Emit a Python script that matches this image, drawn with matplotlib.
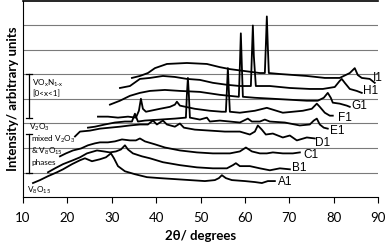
import matplotlib
matplotlib.use("Agg")
import matplotlib.pyplot as plt

plt.rcParams['font.family'] = ['Lato', 'DejaVu Sans']

# ---- data (2θ in degrees, intensity in arbitrary offset units) ----
A1_x = [12.25, 13.83, 15.63, 17.66, 19.01, 21.04, 22.84, 23.96, 25.54, 27.34, 28.69, 29.82, 30.50, 31.40,
        32.97, 35.23, 37.93, 40.86, 44.23, 47.61, 50.99, 53.24, 54.14, 54.82, 55.72, 57.07, 60.0, 62.25,
        63.83, 65.18, 66.76]
A1_y = [0.57, 0.69, 0.85, 1.01, 1.13, 1.34, 1.50, 1.58, 1.46, 1.54, 1.62, 1.78, 1.58, 1.26,
        1.05, 0.93, 0.81, 0.77, 0.73, 0.69, 0.65, 0.69, 0.77, 0.89, 0.77, 0.69, 0.65, 0.61,
        0.57, 0.65, 0.65]

B1_x = [15.63, 17.21, 19.01, 21.26, 22.84, 24.41, 26.67, 28.24, 29.59, 30.95, 32.07, 32.97, 33.65, 34.77,
        36.8, 38.6, 41.53, 45.36, 49.19, 52.79, 55.95, 57.3, 57.97, 58.87, 61.13, 63.38, 65.63, 67.88, 70.14]
B1_y = [1.01, 1.17, 1.34, 1.50, 1.62, 1.78, 1.90, 1.86, 1.82, 1.86, 1.94, 2.11, 1.94, 1.78,
        1.66, 1.58, 1.42, 1.30, 1.21, 1.17, 1.17, 1.30, 1.38, 1.26, 1.26, 1.17, 1.09, 1.17, 1.13]

C1_x = [18.33, 19.68, 21.26, 23.06, 24.64, 26.22, 27.34, 29.14, 30.72, 32.3, 34.1, 35.45, 36.35, 37.48,
        39.73, 41.98, 45.36, 49.19, 52.79, 56.62, 58.87, 60.23, 61.58, 63.38, 64.95, 66.31, 68.56, 70.81, 72.39]
C1_y = [1.66, 1.78, 1.90, 1.98, 2.11, 2.19, 2.23, 2.23, 2.27, 2.35, 2.31, 2.31, 2.39, 2.27,
        2.15, 2.02, 1.90, 1.82, 1.78, 1.78, 1.86, 2.02, 1.86, 1.78, 1.78, 1.82, 1.78, 1.78, 1.82]

D1_x = [21.71, 22.84, 25.09, 27.34, 29.59, 31.85, 34.10, 36.35, 38.15, 39.28, 40.18, 41.53, 42.43, 44.23,
        45.36, 46.26, 48.73, 52.11, 55.49, 58.87, 61.12, 62.25, 62.92, 63.82, 64.72, 66.30, 68.55, 70.13,
        71.71, 73.96, 75.76]
D1_y = [2.47, 2.67, 2.71, 2.79, 2.83, 2.87, 2.92, 2.96, 2.96, 3.12, 2.96, 3.12, 2.96, 2.87,
        3.00, 2.83, 2.75, 2.71, 2.67, 2.67, 2.55, 2.67, 2.92, 2.75, 2.55, 2.59, 2.43, 2.51,
        2.31, 2.43, 2.39]

E1_x = [24.64, 26.22, 28.47, 30.72, 32.97, 34.55, 35.22, 35.90, 37.47, 40.86, 44.23, 46.71, 46.93, 47.16,
        47.38, 47.61, 49.86, 51.44, 52.11, 54.36, 56.62, 58.87, 60.67, 61.57, 63.37, 64.50, 65.62, 69.00,
        72.38, 74.63, 75.53, 76.21, 76.88, 77.78, 78.68]
E1_y = [2.83, 2.87, 2.96, 3.04, 3.08, 3.08, 3.40, 3.08, 3.12, 3.16, 3.20, 3.24, 4.17, 4.86,
        4.17, 3.24, 3.16, 3.24, 3.08, 3.12, 3.08, 3.04, 3.20, 3.08, 3.08, 3.16, 3.08, 3.04,
        2.92, 2.96, 3.12, 3.20, 2.96, 2.83, 2.79]

F1_x = [26.89, 29.14, 31.40, 33.65, 35.45, 36.12, 36.57, 37.02, 37.70, 40.86, 43.11, 44.23, 44.68, 45.36,
        48.73, 52.11, 54.81, 55.72, 55.94, 56.17, 56.39, 56.62, 58.87, 62.25, 64.95, 68.55, 73.06, 75.08,
        76.21, 76.88, 78.01, 79.13, 79.81]
F1_y = [3.28, 3.28, 3.24, 3.28, 3.24, 3.52, 4.01, 3.60, 3.48, 3.60, 3.68, 3.77, 3.89, 3.73,
        3.60, 3.52, 3.48, 3.48, 4.33, 5.26, 4.33, 3.48, 3.44, 3.52, 3.64, 3.44, 3.52, 3.60,
        3.81, 3.68, 3.44, 3.32, 3.32]

G1_x = [29.59, 31.85, 34.10, 36.35, 38.60, 41.98, 45.36, 49.86, 54.36, 58.64, 58.87, 59.09, 59.32, 59.55,
        62.25, 66.30, 70.13, 73.96, 76.43, 77.78, 78.68, 79.36, 79.81, 81.38, 82.96, 83.64]
G1_y = [3.77, 3.93, 4.13, 4.25, 4.33, 4.37, 4.33, 4.29, 4.17, 4.09, 5.34, 6.68, 5.34, 4.09,
        4.05, 4.01, 3.97, 3.93, 3.93, 4.05, 4.25, 4.05, 3.85, 3.81, 3.73, 3.68]

H1_x = [31.85, 34.10, 36.35, 38.60, 41.53, 44.23, 46.93, 49.86, 52.79, 55.94, 58.87, 61.35, 61.57, 61.80,
        62.02, 62.47, 65.62, 70.13, 74.63, 77.56, 80.26, 81.38, 81.83, 82.51, 83.64, 85.21, 86.34]
H1_y = [4.45, 4.53, 4.82, 4.86, 4.94, 4.90, 4.82, 4.78, 4.66, 4.58, 4.53, 4.53, 5.75, 7.00,
        5.75, 4.53, 4.53, 4.45, 4.41, 4.41, 4.49, 4.74, 4.82, 4.66, 4.41, 4.33, 4.25]

I1_x = [34.55, 36.35, 38.15, 39.73, 42.43, 46.93, 51.44, 54.36, 56.62, 59.99, 63.37, 64.50, 64.72, 64.95,
        65.17, 65.40, 67.88, 73.96, 78.01, 81.38, 83.64, 84.76, 85.44, 86.34, 88.14, 89.27]
I1_y = [4.86, 4.94, 5.06, 5.26, 5.43, 5.47, 5.43, 5.30, 5.22, 5.14, 5.06, 5.06, 6.15, 7.37,
        6.15, 5.06, 5.02, 4.94, 4.86, 4.86, 5.06, 5.26, 4.98, 4.86, 4.82, 4.66]

series_names = ['A1', 'B1', 'C1', 'D1', 'E1', 'F1', 'G1', 'H1', 'I1']
series_x = [A1_x, B1_x, C1_x, D1_x, E1_x, F1_x, G1_x, H1_x, I1_x]
series_y = [A1_y, B1_y, C1_y, D1_y, E1_y, F1_y, G1_y, H1_y, I1_y]
label_x = [67.4, 70.6, 73.1, 75.8, 79.1, 80.9, 84.1, 86.6, 88.75]
label_y = [0.61, 1.17, 1.70, 2.19, 2.71, 3.24, 3.72, 4.33, 4.86]

x_ticks = [10, 20, 30, 40, 50, 60, 70, 80, 90]

# ---- figure ----
fig = plt.figure(figsize=(3.85, 2.43), dpi=100)
ax = fig.add_axes([23/385, 46/243, 355/385, 196/243])
ax.set_xlim(10, 90)
ax.set_ylim(0, 8)

for g in range(1, 8):
    ax.axhline(g, color='#7a7a7a', lw=0.8, zorder=1)

for xs, ys in zip(series_x, series_y):
    ax.plot(xs, ys, color='black', lw=1.3, zorder=3, solid_joinstyle='round')

for name, lx, ly in zip(series_names, label_x, label_y):
    ax.text(lx, ly, name, ha='left', va='center', fontsize=8.5,
            family=['Liberation Sans'], clip_on=False)

# left annotations
ann_fs = 5.9
bx = 11.35
cap = 0.7
for (y0, y1) in [(3.22, 5.02), (0.97, 2.59)]:
    ax.plot([bx, bx], [y0, y1], color='black', lw=0.9, clip_on=False)
    ax.plot([bx - cap, bx + cap], [y0, y0], color='black', lw=0.9)
    ax.plot([bx - cap, bx + cap], [y1, y1], color='black', lw=0.9)

ax.text(12.0, 4.66, r'VO$_\mathregular{x}$N$_\mathregular{1\text{-}x}$', fontsize=ann_fs, va='center', ha='left')
ax.text(12.0, 4.21, '[0<x<1]', fontsize=ann_fs, va='center', ha='left')
ax.text(11.3, 2.85, r'V$_\mathregular{2}$O$_\mathregular{3}$', fontsize=ann_fs, va='center', ha='left')
ax.text(11.9, 2.36, r'mixed V$_\mathregular{2}$O$_\mathregular{3}$', fontsize=ann_fs, va='center', ha='left')
ax.text(11.9, 1.88, r'& V$_\mathregular{8}$O$_\mathregular{15}$', fontsize=ann_fs, va='center', ha='left')
ax.text(11.9, 1.42, 'phases', fontsize=ann_fs, va='center', ha='left')
ax.text(10.9, 0.28, r'V$_\mathregular{8}$O$_\mathregular{15}$', fontsize=ann_fs, va='center', ha='left')

# axes styling
ax.set_xticks(x_ticks)
ax.set_yticks([])
ax.tick_params(axis='x', direction='out', length=4, width=0.8, labelsize=9.5, pad=7)
ax.spines['right'].set_visible(False)
ax.spines['top'].set_linewidth(1.2)
ax.spines['left'].set_linewidth(0.8)
ax.spines['bottom'].set_linewidth(0.8)
ax.set_xlabel('2θ/ degrees', fontsize=9.5, fontweight='bold', labelpad=4)
ax.set_ylabel('Intensity/ arbitrary units', fontsize=9.5, fontweight='bold', labelpad=3)

fig.savefig('out.png', dpi=100)
